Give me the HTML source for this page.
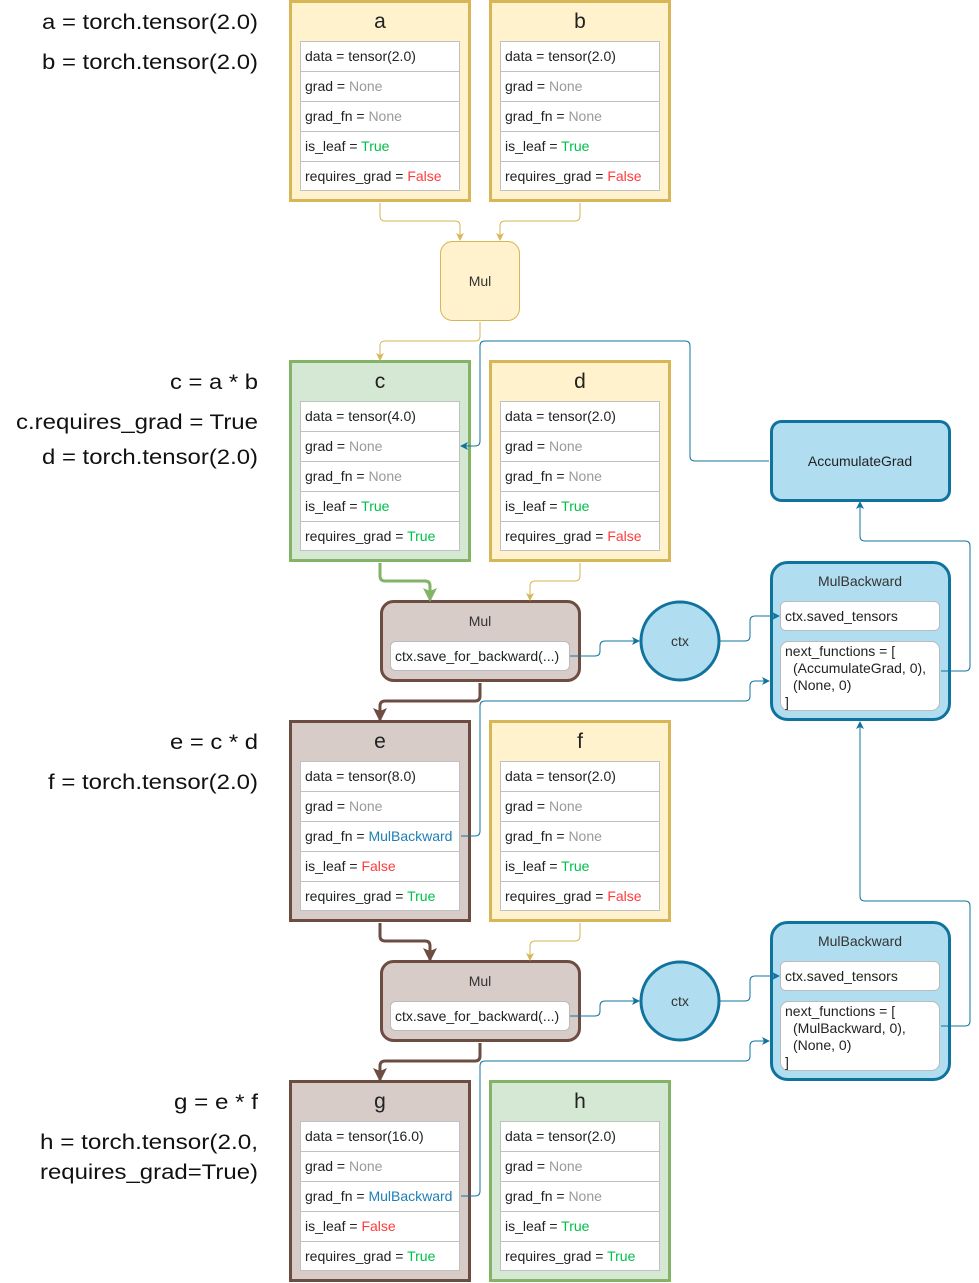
<!DOCTYPE html>
<html><head><meta charset="utf-8"><style>
html,body{margin:0;padding:0;background:#fff}
svg{display:block;font-family:"Liberation Sans",Arial,sans-serif}
.t{font-size:14px;fill:#222}
.n{fill:#999}.g{fill:#00c04b}.r{fill:#ff3b3b}.b{fill:#1f7fb3}
.L{font-size:21px;fill:#111;text-anchor:end}
.ti{font-size:21px;fill:#222;text-anchor:middle}
</style></head><body>
<svg width="979" height="1283" viewBox="0 0 979 1283" xmlns="http://www.w3.org/2000/svg">
<defs>
<marker id="ay" markerWidth="8" markerHeight="8" refX="7" refY="4" orient="auto" markerUnits="userSpaceOnUse"><path d="M0,0 L8,4 L0,8 L2,4 Z" fill="#d6b656"/></marker>
<marker id="ab" markerWidth="8" markerHeight="8" refX="7" refY="4" orient="auto" markerUnits="userSpaceOnUse"><path d="M0,0 L8,4 L0,8 L2,4 Z" fill="#10739e"/></marker>
<marker id="ag" markerWidth="14" markerHeight="14" refX="12" refY="7" orient="auto" markerUnits="userSpaceOnUse"><path d="M0,0 L14,7 L0,14 L3,7 Z" fill="#82b366"/></marker>
<marker id="ar" markerWidth="14" markerHeight="14" refX="12" refY="7" orient="auto" markerUnits="userSpaceOnUse"><path d="M0,0 L14,7 L0,14 L3,7 Z" fill="#6d4c41"/></marker>
</defs>

<!-- left labels -->
<text class="L" x="258" y="29" textLength="216" lengthAdjust="spacingAndGlyphs">a = torch.tensor(2.0)</text>
<text class="L" x="258" y="69" textLength="216" lengthAdjust="spacingAndGlyphs">b = torch.tensor(2.0)</text>
<text class="L" x="258" y="389" textLength="88" lengthAdjust="spacingAndGlyphs">c = a * b</text>
<text class="L" x="258" y="429" textLength="242" lengthAdjust="spacingAndGlyphs">c.requires_grad = True</text>
<text class="L" x="258" y="464" textLength="216" lengthAdjust="spacingAndGlyphs">d = torch.tensor(2.0)</text>
<text class="L" x="258" y="749" textLength="88" lengthAdjust="spacingAndGlyphs">e = c * d</text>
<text class="L" x="258" y="789" textLength="210" lengthAdjust="spacingAndGlyphs">f = torch.tensor(2.0)</text>
<text class="L" x="258" y="1109" textLength="84" lengthAdjust="spacingAndGlyphs">g = e * f</text>
<text class="L" x="258" y="1149" textLength="218" lengthAdjust="spacingAndGlyphs">h = torch.tensor(2.0,</text>
<text class="L" x="258" y="1179" textLength="218" lengthAdjust="spacingAndGlyphs">requires_grad=True)</text>

<!-- Mul top -->
<rect x="440.5" y="241.5" width="79" height="79" rx="12" fill="#fff2cc" stroke="#d6b656"/>
<text x="480" y="286" font-size="14" text-anchor="middle" fill="#333">Mul</text>

<!-- Mul 2 -->
<rect x="381.5" y="601.5" width="198" height="79" rx="12" fill="#d7ccc8" stroke="#6d4c41" stroke-width="3"/>
<text x="480" y="626" font-size="14" text-anchor="middle" fill="#333">Mul</text>
<rect x="390.5" y="641.5" width="179" height="29" rx="5" fill="#fff" stroke="#bbb"/>
<text class="t" x="395" y="661">ctx.save_for_backward(...)</text>
<!-- Mul 3 -->
<rect x="381.5" y="961.5" width="198" height="79" rx="12" fill="#d7ccc8" stroke="#6d4c41" stroke-width="3"/>
<text x="480" y="986" font-size="14" text-anchor="middle" fill="#333">Mul</text>
<rect x="390.5" y="1001.5" width="179" height="29" rx="5" fill="#fff" stroke="#bbb"/>
<text class="t" x="395" y="1021">ctx.save_for_backward(...)</text>

<!-- ctx -->
<circle cx="680" cy="641" r="39" fill="#b1ddf0" stroke="#10739e" stroke-width="3"/>
<text x="680" y="646" font-size="14" text-anchor="middle" fill="#333">ctx</text>
<circle cx="680" cy="1001" r="39" fill="#b1ddf0" stroke="#10739e" stroke-width="3"/>
<text x="680" y="1006" font-size="14" text-anchor="middle" fill="#333">ctx</text>

<!-- AccumulateGrad -->
<rect x="771.5" y="421.5" width="178" height="79" rx="10" fill="#b1ddf0" stroke="#10739e" stroke-width="3"/>
<text x="860" y="466" font-size="14" text-anchor="middle" fill="#222">AccumulateGrad</text>

<!-- MulBackward 1 -->
<rect x="771.5" y="562.5" width="178" height="157" rx="16" fill="#b1ddf0" stroke="#10739e" stroke-width="3"/>
<text x="860" y="586" font-size="14" text-anchor="middle" fill="#333">MulBackward</text>
<rect x="780.5" y="601.5" width="159" height="29" rx="5" fill="#fff" stroke="#bbb"/>
<text class="t" x="785" y="621">ctx.saved_tensors</text>
<rect x="780.5" y="641.5" width="159" height="69" rx="8" fill="#fff" stroke="#bbb"/>
<text class="t" x="785" y="656">next_functions = [</text>
<text class="t" x="793" y="673">(AccumulateGrad, 0),</text>
<text class="t" x="793" y="690">(None, 0)</text>
<text class="t" x="785" y="707">]</text>

<!-- MulBackward 2 -->
<rect x="771.5" y="922.5" width="178" height="157" rx="16" fill="#b1ddf0" stroke="#10739e" stroke-width="3"/>
<text x="860" y="946" font-size="14" text-anchor="middle" fill="#333">MulBackward</text>
<rect x="780.5" y="961.5" width="159" height="29" rx="5" fill="#fff" stroke="#bbb"/>
<text class="t" x="785" y="981">ctx.saved_tensors</text>
<rect x="780.5" y="1001.5" width="159" height="69" rx="8" fill="#fff" stroke="#bbb"/>
<text class="t" x="785" y="1016">next_functions = [</text>
<text class="t" x="793" y="1033">(MulBackward, 0),</text>
<text class="t" x="793" y="1050">(None, 0)</text>
<text class="t" x="785" y="1067">]</text>

<!-- tensors -->
<g transform="translate(289,0)">
<rect x="1.5" y="1.5" width="179" height="199" fill="#fff2cc" stroke="#d6b656" stroke-width="3"/>
<text class="ti" x="91" y="28">a</text>
<rect x="11.5" y="41.5" width="159" height="149" fill="#fff" stroke="#c0c0c0"/>
<path d="M11,71.5H171M11,101.5H171M11,131.5H171M11,161.5H171" stroke="#c0c0c0"/>
<text class="t" x="16" y="61">data = tensor(2.0)</text>
<text class="t" x="16" y="91">grad = <tspan class="n">None</tspan></text>
<text class="t" x="16" y="121">grad_fn = <tspan class="n">None</tspan></text>
<text class="t" x="16" y="151">is_leaf = <tspan class="g">True</tspan></text>
<text class="t" x="16" y="181">requires_grad = <tspan class="r">False</tspan></text>
</g>
<g transform="translate(489,0)">
<rect x="1.5" y="1.5" width="179" height="199" fill="#fff2cc" stroke="#d6b656" stroke-width="3"/>
<text class="ti" x="91" y="28">b</text>
<rect x="11.5" y="41.5" width="159" height="149" fill="#fff" stroke="#c0c0c0"/>
<path d="M11,71.5H171M11,101.5H171M11,131.5H171M11,161.5H171" stroke="#c0c0c0"/>
<text class="t" x="16" y="61">data = tensor(2.0)</text>
<text class="t" x="16" y="91">grad = <tspan class="n">None</tspan></text>
<text class="t" x="16" y="121">grad_fn = <tspan class="n">None</tspan></text>
<text class="t" x="16" y="151">is_leaf = <tspan class="g">True</tspan></text>
<text class="t" x="16" y="181">requires_grad = <tspan class="r">False</tspan></text>
</g>
<g transform="translate(289,360)">
<rect x="1.5" y="1.5" width="179" height="199" fill="#d5e8d4" stroke="#82b366" stroke-width="3"/>
<text class="ti" x="91" y="28">c</text>
<rect x="11.5" y="41.5" width="159" height="149" fill="#fff" stroke="#c0c0c0"/>
<path d="M11,71.5H171M11,101.5H171M11,131.5H171M11,161.5H171" stroke="#c0c0c0"/>
<text class="t" x="16" y="61">data = tensor(4.0)</text>
<text class="t" x="16" y="91">grad = <tspan class="n">None</tspan></text>
<text class="t" x="16" y="121">grad_fn = <tspan class="n">None</tspan></text>
<text class="t" x="16" y="151">is_leaf = <tspan class="g">True</tspan></text>
<text class="t" x="16" y="181">requires_grad = <tspan class="g">True</tspan></text>
</g>
<g transform="translate(489,360)">
<rect x="1.5" y="1.5" width="179" height="199" fill="#fff2cc" stroke="#d6b656" stroke-width="3"/>
<text class="ti" x="91" y="28">d</text>
<rect x="11.5" y="41.5" width="159" height="149" fill="#fff" stroke="#c0c0c0"/>
<path d="M11,71.5H171M11,101.5H171M11,131.5H171M11,161.5H171" stroke="#c0c0c0"/>
<text class="t" x="16" y="61">data = tensor(2.0)</text>
<text class="t" x="16" y="91">grad = <tspan class="n">None</tspan></text>
<text class="t" x="16" y="121">grad_fn = <tspan class="n">None</tspan></text>
<text class="t" x="16" y="151">is_leaf = <tspan class="g">True</tspan></text>
<text class="t" x="16" y="181">requires_grad = <tspan class="r">False</tspan></text>
</g>
<g transform="translate(289,720)">
<rect x="1.5" y="1.5" width="179" height="199" fill="#d7ccc8" stroke="#6d4c41" stroke-width="3"/>
<text class="ti" x="91" y="28">e</text>
<rect x="11.5" y="41.5" width="159" height="149" fill="#fff" stroke="#c0c0c0"/>
<path d="M11,71.5H171M11,101.5H171M11,131.5H171M11,161.5H171" stroke="#c0c0c0"/>
<text class="t" x="16" y="61">data = tensor(8.0)</text>
<text class="t" x="16" y="91">grad = <tspan class="n">None</tspan></text>
<text class="t" x="16" y="121">grad_fn = <tspan class="b">MulBackward</tspan></text>
<text class="t" x="16" y="151">is_leaf = <tspan class="r">False</tspan></text>
<text class="t" x="16" y="181">requires_grad = <tspan class="g">True</tspan></text>
</g>
<g transform="translate(489,720)">
<rect x="1.5" y="1.5" width="179" height="199" fill="#fff2cc" stroke="#d6b656" stroke-width="3"/>
<text class="ti" x="91" y="28">f</text>
<rect x="11.5" y="41.5" width="159" height="149" fill="#fff" stroke="#c0c0c0"/>
<path d="M11,71.5H171M11,101.5H171M11,131.5H171M11,161.5H171" stroke="#c0c0c0"/>
<text class="t" x="16" y="61">data = tensor(2.0)</text>
<text class="t" x="16" y="91">grad = <tspan class="n">None</tspan></text>
<text class="t" x="16" y="121">grad_fn = <tspan class="n">None</tspan></text>
<text class="t" x="16" y="151">is_leaf = <tspan class="g">True</tspan></text>
<text class="t" x="16" y="181">requires_grad = <tspan class="r">False</tspan></text>
</g>
<g transform="translate(289,1080)">
<rect x="1.5" y="1.5" width="179" height="199" fill="#d7ccc8" stroke="#6d4c41" stroke-width="3"/>
<text class="ti" x="91" y="28">g</text>
<rect x="11.5" y="41.5" width="159" height="149" fill="#fff" stroke="#c0c0c0"/>
<path d="M11,71.5H171M11,101.5H171M11,131.5H171M11,161.5H171" stroke="#c0c0c0"/>
<text class="t" x="16" y="61">data = tensor(16.0)</text>
<text class="t" x="16" y="91">grad = <tspan class="n">None</tspan></text>
<text class="t" x="16" y="121">grad_fn = <tspan class="b">MulBackward</tspan></text>
<text class="t" x="16" y="151">is_leaf = <tspan class="r">False</tspan></text>
<text class="t" x="16" y="181">requires_grad = <tspan class="g">True</tspan></text>
</g>
<g transform="translate(489,1080)">
<rect x="1.5" y="1.5" width="179" height="199" fill="#d5e8d4" stroke="#82b366" stroke-width="3"/>
<text class="ti" x="91" y="28">h</text>
<rect x="11.5" y="41.5" width="159" height="149" fill="#fff" stroke="#c0c0c0"/>
<path d="M11,71.5H171M11,101.5H171M11,131.5H171M11,161.5H171" stroke="#c0c0c0"/>
<text class="t" x="16" y="61">data = tensor(2.0)</text>
<text class="t" x="16" y="91">grad = <tspan class="n">None</tspan></text>
<text class="t" x="16" y="121">grad_fn = <tspan class="n">None</tspan></text>
<text class="t" x="16" y="151">is_leaf = <tspan class="g">True</tspan></text>
<text class="t" x="16" y="181">requires_grad = <tspan class="g">True</tspan></text>
</g>

<!-- connectors (on top) -->
<g fill="none" stroke-linejoin="round">
<path d="M380,203 V216 Q380,221 385,221 H455 Q460,221 460,226 V240" stroke="#d6b656" marker-end="url(#ay)"/>
<path d="M580,203 V216 Q580,221 575,221 H505 Q500,221 500,226 V240" stroke="#d6b656" marker-end="url(#ay)"/>
<path d="M480,322 V336 Q480,341 475,341 H385 Q380,341 380,346 V360" stroke="#d6b656" marker-end="url(#ay)"/>
<path d="M769,461 H695 Q690,461 690,456 V346 Q690,341 685,341 H485 Q480,341 480,346 V441 Q480,446 475,446 H461" stroke="#10739e" marker-end="url(#ab)"/>
<path d="M380,563 V576 Q380,581 385,581 H425 Q430,581 430,586 V600" stroke="#82b366" stroke-width="3" marker-end="url(#ag)"/>
<path d="M580,563 V576 Q580,581 575,581 H535 Q530,581 530,586 V600" stroke="#d6b656" marker-end="url(#ay)"/>
<path d="M570,656 H595 Q600,656 600,651 V646 Q600,641 605,641 H639" stroke="#10739e" marker-end="url(#ab)"/>
<path d="M720,641 H745 Q750,641 750,636 V621 Q750,616 755,616 H779" stroke="#10739e" marker-end="url(#ab)"/>
<path d="M480,683 V696 Q480,701 475,701 H385 Q380,701 380,706 V720" stroke="#6d4c41" stroke-width="3" marker-end="url(#ar)"/>
<path d="M461,836 H475 Q480,836 480,831 V706 Q480,701 485,701 H745 Q750,701 750,696 V686 Q750,681 755,681 H769" stroke="#10739e" marker-end="url(#ab)"/>
<path d="M941,671 H965 Q970,671 970,666 V546 Q970,541 965,541 H865 Q860,541 860,536 V502" stroke="#10739e" marker-end="url(#ab)"/>
<path d="M380,923 V936 Q380,941 385,941 H425 Q430,941 430,946 V960" stroke="#6d4c41" stroke-width="3" marker-end="url(#ar)"/>
<path d="M580,923 V936 Q580,941 575,941 H535 Q530,941 530,946 V960" stroke="#d6b656" marker-end="url(#ay)"/>
<path d="M570,1016 H595 Q600,1016 600,1011 V1006 Q600,1001 605,1001 H639" stroke="#10739e" marker-end="url(#ab)"/>
<path d="M720,1001 H745 Q750,1001 750,996 V981 Q750,976 755,976 H779" stroke="#10739e" marker-end="url(#ab)"/>
<path d="M480,1043 V1056 Q480,1061 475,1061 H385 Q380,1061 380,1066 V1080" stroke="#6d4c41" stroke-width="3" marker-end="url(#ar)"/>
<path d="M461,1196 H475 Q480,1196 480,1191 V1066 Q480,1061 485,1061 H745 Q750,1061 750,1056 V1046 Q750,1041 755,1041 H769" stroke="#10739e" marker-end="url(#ab)"/>
<path d="M941,1026 H965 Q970,1026 970,1021 V906 Q970,901 965,901 H865 Q860,901 860,896 V722" stroke="#10739e" marker-end="url(#ab)"/>
</g>
</svg>
</body></html>
